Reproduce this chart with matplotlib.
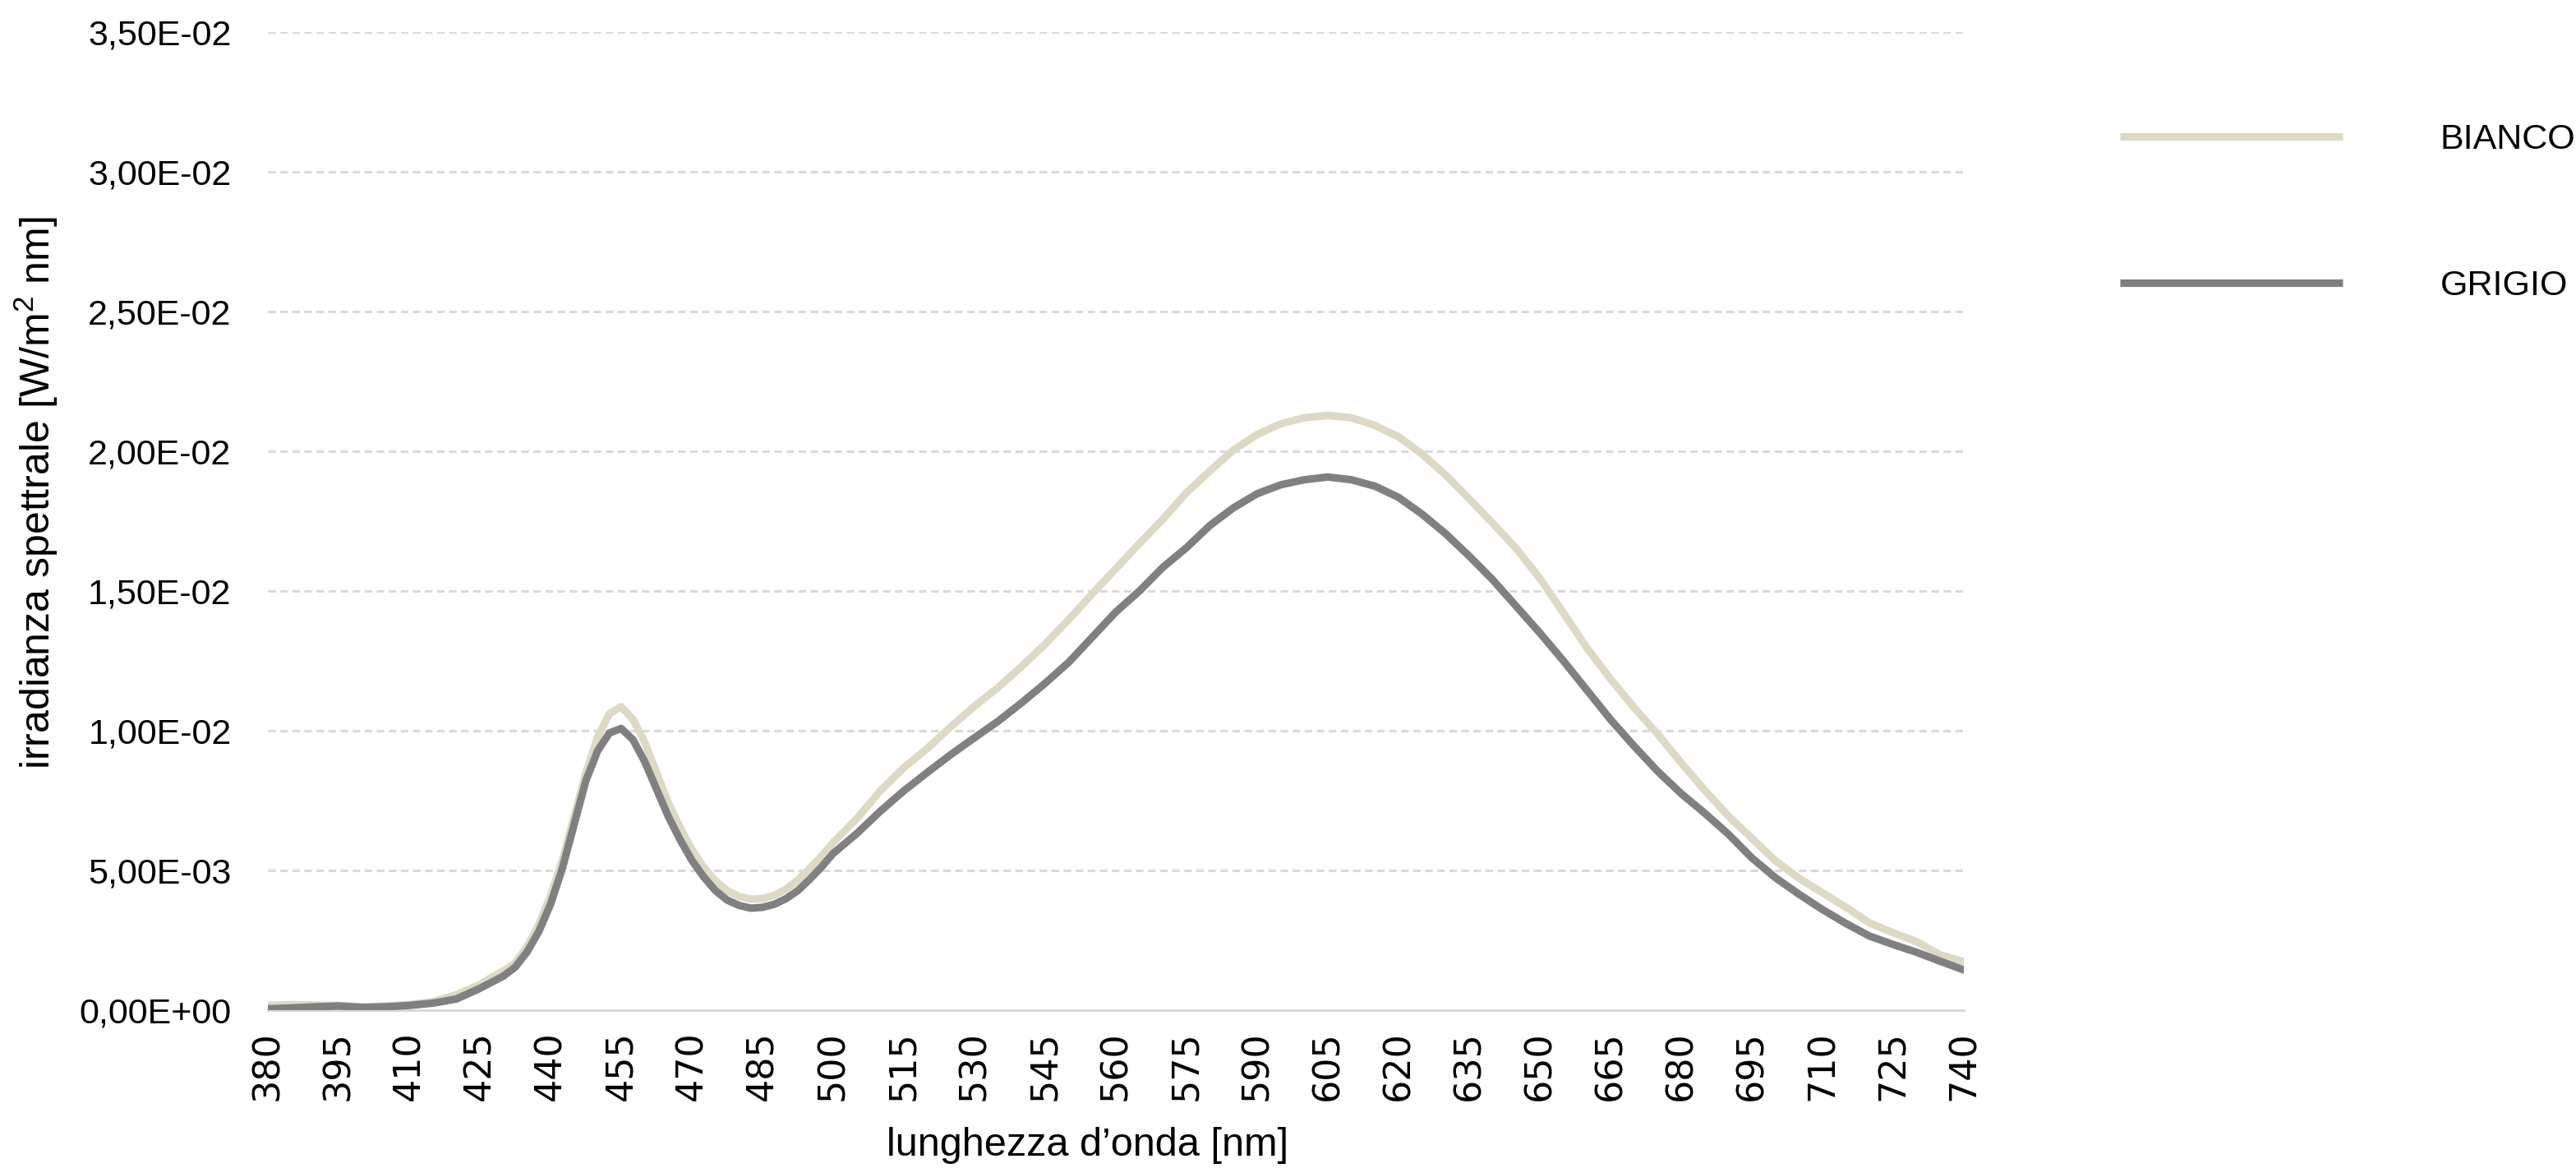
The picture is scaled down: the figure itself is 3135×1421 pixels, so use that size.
import matplotlib
matplotlib.use("Agg")
import matplotlib.pyplot as plt

# ---------------- data ----------------
wavelength = [380, 385, 390, 395, 400, 405, 410, 415, 420, 425,
              427.5, 430, 432.5, 435, 437.5, 440, 442.5, 445, 447.5, 450,
              452.5, 455, 457.5, 460, 462.5, 465, 467.5, 470, 472.5, 475,
              477.5, 480, 482.5, 485, 487.5, 490, 492.5, 495, 497.5, 500,
              505, 510, 515, 520, 525, 530, 535, 540, 545, 550, 555, 560, 565,
              570, 575, 580, 585, 590, 595, 600, 605, 610, 615, 620, 625, 630,
              635, 640, 645, 650, 655, 660, 665, 670, 675, 680, 685, 690, 695,
              700, 705, 710, 715, 720, 725, 730, 735, 740]

bianco = [0.00017, 0.00020, 0.00018, 0.00017, 0.00012, 0.00015, 0.00020, 0.00030,
          0.00055, 0.00092,
          0.00118, 0.00140, 0.00169, 0.00227, 0.00306, 0.00409, 0.00536, 0.00693,
          0.00850, 0.00977,
          0.01061, 0.01086, 0.01041, 0.00958, 0.00850, 0.00742, 0.00654, 0.00575,
          0.00512, 0.00463,
          0.00428, 0.00407, 0.00397, 0.00399, 0.00411, 0.00433, 0.00466, 0.00507,
          0.00551, 0.00600,
          0.00685, 0.00785, 0.00868, 0.00937, 0.01015, 0.01088, 0.01155, 0.01230,
          0.01310, 0.01398, 0.01490, 0.01580, 0.01670, 0.01757, 0.01852, 0.01930,
          0.02005, 0.02060, 0.02098, 0.02120, 0.02128, 0.02120, 0.02092, 0.02052,
          0.01990, 0.01915, 0.01830, 0.01742, 0.01652, 0.01545, 0.01422, 0.01296,
          0.01185, 0.01083, 0.00988, 0.00885, 0.00787, 0.00695, 0.00615, 0.00535,
          0.00472, 0.00420, 0.00368, 0.00312, 0.00277, 0.00245, 0.00198, 0.00174]

grigio = [0.00005, 0.00008, 0.00012, 0.00015, 0.00010, 0.00012, 0.00017, 0.00025,
          0.00040, 0.00078,
          0.00100, 0.00122, 0.00154, 0.00208, 0.00281, 0.00379, 0.00507, 0.00664,
          0.00821, 0.00928,
          0.00992, 0.01008, 0.00968, 0.00889, 0.00791, 0.00693, 0.00610, 0.00536,
          0.00477, 0.00428,
          0.00394, 0.00375, 0.00365, 0.00368, 0.00379, 0.00399, 0.00428, 0.00468,
          0.00512, 0.00561,
          0.00632, 0.00712, 0.00785, 0.00851, 0.00915, 0.00975, 0.01034, 0.01100,
          0.01170, 0.01245, 0.01335, 0.01425, 0.01500, 0.01585, 0.01655, 0.01735,
          0.01798, 0.01848, 0.01880, 0.01898, 0.01908, 0.01898, 0.01875, 0.01835,
          0.01775, 0.01705, 0.01625, 0.01540, 0.01445, 0.01350, 0.01250, 0.01145,
          0.01040, 0.00945, 0.00855, 0.00775, 0.00705, 0.00630, 0.00545, 0.00474,
          0.00415, 0.00360, 0.00310, 0.00265, 0.00235, 0.00207, 0.00175, 0.00144]

series_names = ["BIANCO", "GRIGIO"]
x_ticks = list(range(380, 741, 15))
y_ticks = [0.0, 0.005, 0.010, 0.015, 0.020, 0.025, 0.030, 0.035]
y_tick_labels = ["0,00E+00", "5,00E-03", "1,00E-02", "1,50E-02",
                 "2,00E-02", "2,50E-02", "3,00E-02", "3,50E-02"]
x_label = "lunghezza d\u2019onda [nm]"
y_label = "irradianza spettrale [W/m$^2$ nm]"

# ---------------- style ----------------
plt.rcParams['font.family'] = ['Liberation Sans', 'DejaVu Sans']
plt.rcParams['mathtext.fontset'] = 'custom'
plt.rcParams['mathtext.rm'] = 'Liberation Sans'

W, H, DPI = 3135, 1421, 200
fig = plt.figure(figsize=(W / DPI, H / DPI), dpi=DPI)
ax = fig.add_axes([326 / W, 1 - 1229 / H, (2390 - 326) / W, (1229 - 39) / H])

c_bianco = "#DDD9C3"
c_grigio = "#808080"
grid_c = "#D9D9D9"

ax.plot(wavelength, bianco, color=c_bianco, lw=3.3, label=series_names[0],
        solid_joinstyle='round', solid_capstyle='round', zorder=3)
ax.plot(wavelength, grigio, color=c_grigio, lw=3.3, label=series_names[1],
        solid_joinstyle='round', solid_capstyle='round', zorder=4)

ax.set_xlim(380, 740)
ax.set_ylim(0, 0.035)
ax.set_xticks(x_ticks)
ax.set_xticklabels([str(v) for v in x_ticks], rotation=90, fontsize=16,
                   family=['DejaVu Sans'])
ax.set_yticks(y_ticks)
ax.set_yticklabels(y_tick_labels, fontsize=15.5)
ax.tick_params(axis='both', length=0)
ax.tick_params(axis='x', pad=9)
ax.tick_params(axis='y', pad=16)

for s in ['top', 'right', 'left']:
    ax.spines[s].set_visible(False)
ax.spines['bottom'].set_color(grid_c)
ax.spines['bottom'].set_linewidth(1.1)
ax.spines['bottom'].set_zorder(1)

ax.yaxis.grid(True, color=grid_c, lw=1.1, linestyle=(0, (3.0, 1.8)), zorder=0)
ax.xaxis.grid(False)
ax.set_axisbelow(True)

ax.set_xlabel(x_label, fontsize=17.5)
ax.xaxis.set_label_coords((1324 - 326) / 2064, (1229 - 1394) / 1190)
ax.xaxis.label.set_va('center')
ax.set_ylabel(y_label, fontsize=18)
ax.yaxis.set_label_coords((44 - 326) / 2064, (1229 - 600) / 1190)
ax.yaxis.label.set_va('center')

leg = fig.legend(handles=ax.get_lines(), loc='upper left',
                 bbox_to_anchor=(2580 / W, 1 - 150 / H), frameon=False,
                 fontsize=15.5, handlelength=6.3, handletextpad=2.75,
                 labelspacing=3.2, borderpad=0, borderaxespad=0)
for h in leg.get_lines():
    h.set_linewidth(3.3)
    h.set_solid_capstyle('butt')

fig.savefig("out.png", dpi=DPI, facecolor='white')
